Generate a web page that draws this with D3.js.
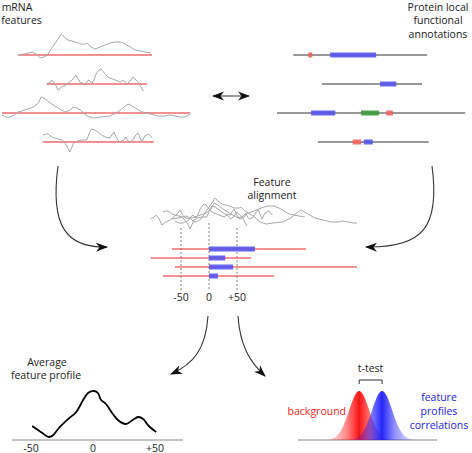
<!DOCTYPE html>
<html><head><meta charset="utf-8">
<script src="https://cdn.jsdelivr.net/npm/d3@7"></script>
<style>
body{margin:0;background:#fff}
svg{display:block}
text{font-family:"Open Sans",sans-serif;font-size:10.5px;fill:#222}
</style>
</head><body>
<svg id="c" width="472" height="453"></svg>
<script>
// ---------------- DATA ----------------
const rows = [0, 1, 2, 3];
// protein / mRNA extents in nt, relative to the aligned feature start
const rowStart = [-66, -104, -61, -82];
const rowEnd = [173, 75, 275, 116];
const featureLen = [82, 29, 43, 16];
// position of the feature start along the panel axis (nt)
const featurePos = [95, 184, 61, 155];
const extraDomains = [
  [{type: "red", s: -39, e: -32}],
  [],
  [{type: "green", s: 89, e: 121}, {type: "red", s: 134, e: 146}],
  [{type: "red", s: -20, e: -5}]
];
// mRNA feature traces: [position (nt, relative to feature), signal]
const trace1 = [[-66,0],[-55,1],[-41,3],[-34,1],[-27,-3],[-20,-2],[-14,0],[-5,8],[4,15],[11,21],[18,17],[23,15],[36,13],[45,11],[54,11],[57,12],[64,8],[71,6],[80,8],[89,10],[98,12],[107,13],[116,13],[125,11],[134,8],[143,5],[152,4],[161,3],[171,2]];
const trace2 = [[-104,0],[-98,2],[-95,4],[-89,0],[-84,-6],[-77,-3],[-70,-1],[-63,2],[-55,6],[-52,9],[-48,5],[-45,2],[-36,0],[-29,4],[-23,1],[-20,4],[-16,10],[-11,14],[-7,15],[-4,13],[0,10],[5,7],[9,6],[18,4],[27,2],[32,4],[39,0],[45,3],[50,7],[55,4],[59,2],[68,-7]];
const trace3 = [[-61,-2],[-54,-4],[-46,-4],[-39,-2],[-32,1],[-20,3],[-5,6],[4,10],[9,16],[16,14],[25,10],[39,5],[52,1],[61,3],[66,6],[73,5],[79,3],[91,-3],[102,-5],[114,-4],[132,-3],[146,1],[159,7],[164,9],[168,8],[177,5],[189,1],[204,-1],[218,-3],[230,-3],[239,-2],[248,-3],[257,-4],[266,-4],[275,-1]];
const trace4 = [[-82,7],[-77,8],[-73,8],[-66,5],[-61,4],[-48,2],[-43,-1],[-39,-4],[-34,-10],[-30,-5],[-27,-1],[-20,1],[-13,2],[-4,2],[2,10],[5,13],[11,12],[16,10],[23,7],[29,5],[38,4],[41,7],[45,10],[48,6],[52,2],[55,0],[59,1],[63,2],[66,5],[70,1],[73,0],[79,2],[84,7],[88,9],[91,5],[95,0],[98,4],[100,6],[107,8],[113,4]];
const traces = [trace1, trace2, trace3, trace4];

const alignTicks = [-50, 0, 50];
const alignTickLabels = ["-50", "0", "+50"];

// average feature profile
const profilePos = [-49,-42,-35.5,-32,-27.5,-20,-13.5,-8,-4,1,4,6.5,10.5,16,21,26.5,32,36.5,40.5,45,51];
const profileVal = [14,8,3,5,12,21,28,40,47,49,47,40,36,26,19,16,20,23,21,14,8];
const profileTicks = [-50, 0, 50];
const profileTickLabels = ["-50", "0", "+50"];

// correlation distributions
const bgMean = -0.12, fgMean = 0.21, corrSd = 0.145;

// ---------------- DRAW ----------------
const svg = d3.select("#c");
const defs = svg.append("defs");
defs.append("marker").attr("id", "arr")
  .attr("viewBox", "0 -5 12 10").attr("refX", 11).attr("refY", 0)
  .attr("markerWidth", 12).attr("markerHeight", 10)
  .attr("markerUnits", "userSpaceOnUse").attr("orient", "auto-start-reverse")
  .append("path").attr("d", "M0,-4.5L12,0L0,4.5L3.5,0Z").attr("fill", "#111");

const colors = {red: "#f06060", green: "#3a9a3a", blue: "#5555f0"};
const redLine = "#ef5058";
const greyTrace = "#a8a8a8";

// panel scales
const protX = d3.scaleLinear().domain([0, 100]).range([277, 333]);
const mrnaX = d3.scaleLinear().domain([0, 100]).range([2, 58]);
const topRowY = d3.scalePoint().domain(rows).range([55, 142]);
const sig = d3.scaleLinear().domain([0, 10]).range([0, -10]);

// ---- mRNA panel ----
const gm = svg.append("g");
rows.forEach(i => {
  const y0 = topRowY(i);
  gm.append("line")
    .attr("x1", mrnaX(featurePos[i] + rowStart[i])).attr("x2", mrnaX(featurePos[i] + rowEnd[i]))
    .attr("y1", y0).attr("y2", y0)
    .attr("stroke", redLine).attr("stroke-width", 1.5).attr("opacity", 0.85);
  gm.append("path").datum(traces[i])
    .attr("d", d3.line().x(d => mrnaX(featurePos[i] + d[0])).y(d => y0 + sig(d[1])))
    .attr("fill", "none").attr("stroke", greyTrace).attr("stroke-width", 1);
});
gm.append("text").attr("x", 17).attr("y", 10.5).attr("text-anchor", "middle").text("mRNA");
gm.append("text").attr("x", 21.5).attr("y", 23.5).attr("text-anchor", "middle").text("features");

// ---- protein panel ----
const gp = svg.append("g");
rows.forEach(i => {
  const y0 = topRowY(i);
  gp.append("line")
    .attr("x1", protX(featurePos[i] + rowStart[i])).attr("x2", protX(featurePos[i] + rowEnd[i]))
    .attr("y1", y0).attr("y2", y0).attr("stroke", "#333").attr("stroke-width", 1);
  const doms = [{type: "blue", s: 0, e: featureLen[i]}].concat(extraDomains[i]);
  gp.selectAll(null).data(doms).join("rect")
    .attr("x", d => protX(featurePos[i] + d.s)).attr("width", d => protX(featurePos[i] + d.e) - protX(featurePos[i] + d.s))
    .attr("y", y0 - 2.5).attr("height", 5)
    .attr("fill", d => colors[d.type]).attr("opacity", 0.9);
});
["Protein local", "functional", "annotations"].forEach((t, k) => {
  gp.append("text").attr("x", 438).attr("y", 10.5 + k * 13.5).attr("text-anchor", "middle").text(t);
});

// double arrow
svg.append("line").attr("x1", 213).attr("x2", 249).attr("y1", 96).attr("y2", 96)
  .attr("stroke", "#333").attr("stroke-width", 1)
  .attr("marker-start", "url(#arr)").attr("marker-end", "url(#arr)");

// curved arrows
const arrows = [
  "M58,166 C50,226 66,248 107,247",
  "M432,166 C440,226 424,248 366,247",
  "M208,316 C206,348 194,364 171,374",
  "M238,316 C240,346 250,362 265,376"
];
svg.selectAll(".arr").data(arrows).join("path")
  .attr("d", d => d).attr("fill", "none").attr("stroke", "#333").attr("stroke-width", 1.1)
  .attr("marker-end", "url(#arr)");

// ---- alignment panel ----
const alignX = d3.scaleLinear().domain([-50, 50]).range([181, 237]);
const alignRowY = d3.scalePoint().domain(rows).range([249, 276]);
const alignTraceY = d3.scaleLinear().domain([0, 10]).range([219, 209]);
defs.append("clipPath").attr("id", "ac").append("rect").attr("x", 140).attr("y", 170).attr("width", 217).attr("height", 120);
const ga = svg.append("g");
ga.append("text").attr("x", 272).attr("y", 186).attr("text-anchor", "middle").text("Feature");
ga.append("text").attr("x", 272).attr("y", 199).attr("text-anchor", "middle").text("alignment");
ga.selectAll(".dl").data(alignTicks).join("line")
  .attr("x1", d => alignX(d)).attr("x2", d => alignX(d))
  .attr("y1", d => d === 0 ? 223 : 228).attr("y2", 290)
  .attr("stroke", "#777").attr("stroke-width", 0.9).attr("stroke-dasharray", "2,2");
const gac = ga.append("g").attr("clip-path", "url(#ac)");
rows.forEach(i => {
  gac.append("path").datum(traces[i])
    .attr("d", d3.line().x(d => alignX(d[0])).y(d => alignTraceY(d[1])))
    .attr("fill", "none").attr("stroke", greyTrace).attr("stroke-width", 1);
});
rows.forEach(i => {
  const y0 = alignRowY(i);
  gac.append("line").attr("x1", alignX(rowStart[i])).attr("x2", alignX(rowEnd[i]))
    .attr("y1", y0).attr("y2", y0).attr("stroke", redLine).attr("stroke-width", 1.3).attr("opacity", 0.85);
  gac.append("rect").attr("x", alignX(0)).attr("width", alignX(featureLen[i]) - alignX(0))
    .attr("y", y0 - 2.5).attr("height", 5).attr("fill", colors.blue).attr("opacity", 0.9);
});
ga.selectAll(".tl").data(alignTicks).join("text")
  .attr("x", d => alignX(d)).attr("y", 301).attr("text-anchor", "middle")
  .text((d, k) => alignTickLabels[k]);

// ---- average profile ----
const profX = d3.scaleLinear().domain([-50, 50]).range([31, 155]);
const profY = d3.scaleLinear().domain([0, 50]).range([440, 390]);
const gv = svg.append("g");
gv.append("text").attr("x", 47).attr("y", 366).attr("text-anchor", "middle").text("Average");
gv.append("text").attr("x", 46).attr("y", 379).attr("text-anchor", "middle").text("feature profile");
gv.append("line").attr("x1", 12).attr("x2", 183).attr("y1", 440).attr("y2", 440)
  .attr("stroke", "#888").attr("stroke-width", 1.2);
gv.append("path").datum(profilePos.map((p, k) => [p, profileVal[k]]))
  .attr("d", d3.line().curve(d3.curveCatmullRom).x(d => profX(d[0])).y(d => profY(d[1])))
  .attr("fill", "none").attr("stroke", "#000").attr("stroke-width", 1.8);
gv.selectAll(".pt").data(profileTicks).join("text")
  .attr("x", d => profX(d)).attr("y", 451.5).attr("text-anchor", "middle")
  .text((d, k) => profileTickLabels[k]);

// ---- correlation distributions ----
const corrX = d3.scaleLinear().domain([-1, 1]).range([298, 437]);
const densY = d3.scaleLinear().domain([0, 1]).range([440, 391]);
function gaussPts(m) {
  return d3.range(-4, 4.01, 0.1).map(z => [m + z * corrSd, Math.exp(-0.5 * z * z)]);
}
function grad(id, col, m) {
  const g = defs.append("linearGradient").attr("id", id).attr("gradientUnits", "userSpaceOnUse")
    .attr("x1", corrX(m - 3.2 * corrSd)).attr("x2", corrX(m + 3.2 * corrSd)).attr("y1", 0).attr("y2", 0);
  [[0, 0.08], [0.3, 0.5], [0.5, 1], [0.7, 0.5], [1, 0.08]].forEach(s =>
    g.append("stop").attr("offset", s[0]).attr("stop-color", col).attr("stop-opacity", s[1]));
}
grad("gr", "#ff1414", bgMean);
grad("gb", "#1414ff", fgMean);
const gd = svg.append("g");
gd.append("line").attr("x1", 298).attr("x2", 437).attr("y1", 440).attr("y2", 440)
  .attr("stroke", "#888").attr("stroke-width", 1.2);
const area = d3.area().x(d => corrX(d[0])).y0(densY(0)).y1(d => densY(d[1]));
gd.append("path").datum(gaussPts(bgMean)).attr("d", area).attr("fill", "url(#gr)");
gd.append("path").datum(gaussPts(fgMean)).attr("d", area).attr("fill", "url(#gb)").attr("opacity", 0.92);
[bgMean, fgMean].forEach(m => gd.append("line").attr("x1", corrX(m)).attr("x2", corrX(m))
  .attr("y1", densY(1)).attr("y2", densY(0.05)).attr("stroke", "#333").attr("stroke-width", 0.6).attr("opacity", 0.3));
gd.append("path")
  .attr("d", `M${corrX(bgMean)},384 V380 H${corrX(fgMean)} V384`)
  .attr("fill", "none").attr("stroke", "#333").attr("stroke-width", 1);
gd.append("text").attr("x", (corrX(bgMean) + corrX(fgMean)) / 2).attr("y", 372).attr("text-anchor", "middle").text("t-test");
gd.append("text").attr("x", 346).attr("y", 415).attr("text-anchor", "end").style("fill", "#ee1c1c").text("background");
["feature", "profiles", "correlations"].forEach((t, k) =>
  gd.append("text").attr("x", 439).attr("y", 401 + k * 14).attr("text-anchor", "middle").style("fill", "#2222e6").text(t));
</script>
</body></html>
